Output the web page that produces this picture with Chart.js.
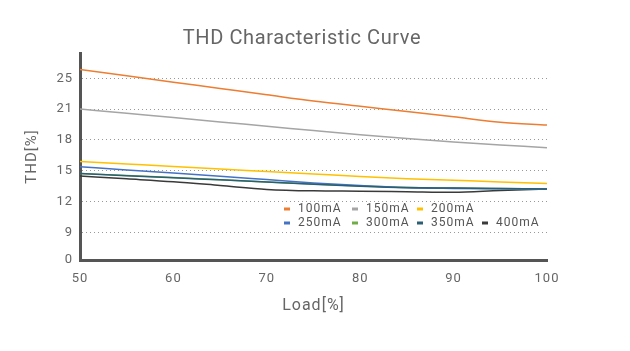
<!DOCTYPE html>
<html>
<head>
<meta charset="utf-8">
<script src="https://cdn.jsdelivr.net/npm/chart.js@4/dist/chart.umd.min.js"></script>
<style>
  html, body { margin: 0; padding: 0; background: #fff; }
  #wrap { width: 630px; height: 351px; }
</style>
</head>
<body>
<div id="wrap"><canvas id="thdChart" width="630" height="351"></canvas></div>
<script>
const loads = [50, 55, 60, 65, 70, 75, 80, 85, 90, 95, 100];
const seriesNames = ['100mA', '150mA', '200mA', '250mA', '300mA', '350mA', '400mA'];
const thd100 = [26.15, 25.33, 24.51, 23.69, 22.87, 22.06, 21.37, 20.78, 20.25, 19.72, 19.45];
const thd150 = [21.03, 20.60, 20.18, 19.75, 19.34, 18.91, 18.50, 18.14, 17.81, 17.52, 17.23];
const thd200 = [15.90, 15.66, 15.42, 15.16, 14.92, 14.68, 14.44, 14.23, 14.07, 13.91, 13.76];
const thd250 = [15.39, 15.08, 14.78, 14.47, 14.14, 13.81, 13.56, 13.35, 13.28, 13.24, 13.21];
const thd300 = [14.74, 14.53, 14.33, 14.12, 13.91, 13.70, 13.51, 13.37, 13.31, 13.26, 13.21];
const thd350 = [14.72, 14.51, 14.32, 14.11, 13.90, 13.69, 13.50, 13.36, 13.31, 13.26, 13.21];
const thd400 = [14.48, 14.21, 13.93, 13.56, 13.18, 13.04, 13.01, 12.96, 12.91, 13.08, 13.21];
const yTicks = [0, 9, 12, 15, 18, 21, 25];
const xTicks = [50, 60, 70, 80, 90, 100];

const colores = ['#ED7D31', '#A5A5A5', '#FFC000', '#4472C4', '#70AD47', '#2B5F75', '#3A3A3A'];
const FONT = 'Roboto';

// the original axis is broken between 0 and 9, the other steps are equal
function slotOf(v) {
    if (v <= yTicks[1]) return v / yTicks[1] * 0.9;
    for (let i = 1; i < yTicks.length - 1; i++) {
        if (v <= yTicks[i + 1]) return 0.9 + (i - 1) + (v - yTicks[i]) / (yTicks[i + 1] - yTicks[i]);
    }
    const n = yTicks.length - 1;
    return 0.9 + (n - 1) + (v - yTicks[n]) / (yTicks[n] - yTicks[n - 1]);
}

class PiecewiseScale extends Chart.LinearScale {
    getPixelForValue(value) {
        return this.getPixelForDecimal(slotOf(value) / slotOf(this.max));
    }
}
PiecewiseScale.id = 'piecewise';
PiecewiseScale.defaults = Chart.LinearScale.defaults;
Chart.register(PiecewiseScale);

// spaced lettering like the original
const espaciadoPlugin = {
    id: 'espaciadoPlugin',
    beforeUpdate(chart) { chart.ctx.letterSpacing = '1px'; },
    beforeDraw(chart) { chart.ctx.letterSpacing = '1px'; }
};

const tituloPlugin = {
    id: 'tituloPlugin',
    afterDraw(chart) {
        const ctx = chart.ctx;
        ctx.save();
        ctx.letterSpacing = '0.6px';
        ctx.font = '20px ' + FONT;
        ctx.fillStyle = '#666';
        ctx.textAlign = 'center';
        ctx.textBaseline = 'middle';
        ctx.fillText('THD Characteristic Curve', 302, 39);
        ctx.restore();
    }
};

const leyendaPlugin = {
    id: 'leyendaPlugin',
    afterDraw(chart) {
        const ctx = chart.ctx;
        const filas = [[0, 1, 2], [3, 4, 5, 6]];
        const columnas = [284, 352, 417, 482];
        ctx.save();
        ctx.letterSpacing = '1px';
        ctx.font = '12px ' + FONT;
        ctx.textBaseline = 'middle';
        ctx.textAlign = 'left';
        filas.forEach((fila, f) => {
            const y = 209 + f * 14;
            fila.forEach((idx, c) => {
                const x = columnas[c];
                ctx.fillStyle = chart.data.datasets[idx].borderColor;
                ctx.fillRect(x, y - 1.5, 6, 3);
                ctx.fillStyle = '#555';
                ctx.fillText(chart.data.datasets[idx].label, x + 14, y);
            });
        });
        ctx.restore();
    }
};

const valores = [thd100, thd150, thd200, thd250, thd300, thd350, thd400];

const grafico = new Chart(document.getElementById('thdChart'), {
    type: 'line',
    data: {
        datasets: seriesNames.map((nombre, i) => ({
            label: nombre,
            data: loads.map((x, j) => ({ x: x, y: valores[i][j] })),
            borderColor: colores[i],
            backgroundColor: colores[i],
            borderWidth: 1.5,
            pointRadius: 0,
            cubicInterpolationMode: 'monotone',
            order: i === 5 ? -1 : i
        }))
    },
    options: {
        responsive: false,
        animation: false,
        events: [],
        layout: { padding: { top: 53, right: 83, bottom: 0, left: 0 } },
        plugins: {
            legend: { display: false },
            tooltip: { enabled: false },
            title: { display: false }
        },
        scales: {
            x: {
                type: 'linear',
                min: 50,
                max: 100,
                afterBuildTicks: s => { s.ticks = xTicks.map(v => ({ value: v })); },
                afterFit: s => { s.height = 91; },
                grid: { display: false, drawTicks: false },
                border: { display: true, color: '#555', width: 3 },
                ticks: { color: '#666', font: { family: FONT, size: 13 }, padding: 11 },
                title: {
                    display: true,
                    text: 'Load[%]',
                    color: '#666',
                    font: { family: FONT, size: 16 },
                    padding: { top: 0, bottom: 35 }
                }
            },
            y: {
                type: 'piecewise',
                min: 0,
                max: 28.3,
                afterBuildTicks: s => { s.ticks = yTicks.map(v => ({ value: v })); },
                afterFit: s => { s.width = 80; },
                grid: { color: '#999', lineWidth: 1, drawTicks: false },
                border: { display: true, color: '#555', width: 3, dash: [1, 3] },
                ticks: { color: '#666', font: { family: FONT, size: 13 }, padding: 7 },
                title: {
                    display: true,
                    text: 'THD[%]',
                    color: '#666',
                    font: { family: FONT, size: 15 },
                    padding: { top: 23, bottom: 0 }
                }
            }
        }
    },
    plugins: [espaciadoPlugin, tituloPlugin, leyendaPlugin]
});
</script>
</body>
</html>
